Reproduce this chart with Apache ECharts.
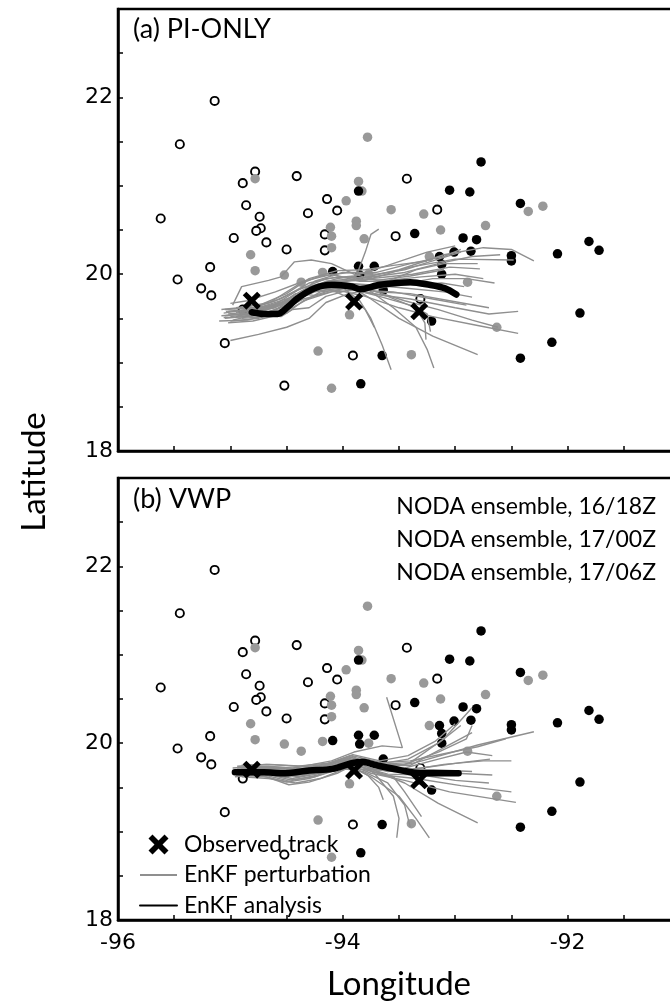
<!DOCTYPE html>
<html><head><meta charset="utf-8">
<script src="https://cdn.jsdelivr.net/npm/echarts@6/dist/echarts.min.js"></script>
<style>html,body{margin:0;padding:0;background:#fff}#c{width:670px;height:1005px}</style>
</head><body><div id="c"></div>
<script>
// ---------- tick labels ----------
const xTickLabels = [-96, -94, -92];
const yTickLabels = [18, 20, 22];

// ---------- NODA ensemble positions (lon, lat) ----------
const noda1618 = [[-95.14,21.96],[-95.45,21.47],[-95.62,20.63],[-94.78,21.16],[-94.89,21.03],[-94.41,21.11],[-93.43,21.08],[-94.86,20.78],[-94.74,20.65],[-94.14,20.85],[-94.05,20.72],[-94.31,20.69],[-93.16,20.73],[-94.73,20.52],[-94.77,20.49],[-94.97,20.41],[-94.68,20.36],[-94.16,20.45],[-93.53,20.43],[-94.50,20.28],[-94.16,20.27],[-95.18,20.08],[-95.47,19.94],[-95.26,19.84],[-95.17,19.76],[-94.89,19.60],[-93.31,19.72],[-95.05,19.22],[-93.91,19.08],[-94.52,18.74]];
const noda1700 = [[-93.78,21.55],[-93.86,21.05],[-93.83,20.94],[-94.78,21.08],[-93.97,20.83],[-93.57,20.73],[-93.28,20.68],[-92.35,20.71],[-92.22,20.77],[-93.88,20.60],[-93.88,20.55],[-94.11,20.53],[-94.10,20.43],[-93.81,20.40],[-93.13,20.50],[-92.73,20.55],[-94.10,20.30],[-94.82,20.22],[-94.78,20.04],[-94.52,19.99],[-94.37,19.91],[-94.18,20.02],[-93.77,20.00],[-93.23,20.20],[-92.89,19.91],[-93.94,19.54],[-92.63,19.40],[-94.22,19.13],[-93.39,19.09],[-94.10,18.71]];
const noda1706 = [[-92.77,21.27],[-93.05,20.95],[-92.87,20.93],[-92.42,20.80],[-93.86,20.94],[-93.36,20.46],[-92.93,20.41],[-92.81,20.39],[-91.81,20.37],[-91.72,20.27],[-92.09,20.23],[-93.01,20.25],[-92.86,20.26],[-92.50,20.21],[-92.50,20.15],[-93.14,20.20],[-93.12,20.11],[-93.12,20.00],[-93.86,20.09],[-93.72,20.09],[-94.09,20.03],[-93.85,19.99],[-93.64,19.82],[-93.21,19.47],[-91.89,19.56],[-92.14,19.23],[-92.42,19.05],[-93.65,19.08],[-93.84,18.76]];

// ---------- observed track ----------
const observedTrack = [[-94.81,19.70],[-93.90,19.69],[-93.32,19.58]];

// ---------- EnKF analysis ----------
const analysisA = [[-94.81,19.57],[-94.70,19.55],[-94.58,19.55],[-94.48,19.64],[-94.40,19.73],[-94.25,19.84],[-94.10,19.88],[-93.92,19.86],[-93.85,19.83],[-93.67,19.88],[-93.40,19.91],[-93.23,19.88],[-93.09,19.84],[-92.99,19.77]];
const analysisB = [[-94.96,19.67],[-94.70,19.67],[-94.54,19.66],[-94.30,19.69],[-94.09,19.71],[-93.93,19.77],[-93.83,19.79],[-93.70,19.75],[-93.47,19.69],[-93.31,19.66],[-92.97,19.66]];

// ---------- EnKF perturbations ----------
const perturbA = [
 [[-95.05,19.50],[-94.80,19.53],[-94.55,19.60],[-94.35,19.78],[-94.10,19.90],[-93.85,19.95],[-93.50,20.05],[-93.10,20.22],[-92.75,20.30],[-92.50,20.28],[-92.30,20.15]],
 [[-95.00,19.47],[-94.75,19.50],[-94.50,19.62],[-94.30,19.80],[-94.05,19.92],[-93.80,19.93],[-93.40,20.08],[-93.00,20.17],[-92.48,20.16]],
 [[-95.08,19.53],[-94.85,19.55],[-94.60,19.66],[-94.40,19.82],[-94.15,19.95],[-93.90,19.98],[-93.60,20.10],[-93.25,20.25],[-93.00,20.32]],
 [[-95.00,19.25],[-94.75,19.32],[-94.50,19.40],[-94.30,19.50],[-94.15,19.68],[-93.95,19.78],[-93.60,19.86],[-93.20,19.95],[-92.90,19.95],[-92.65,19.90]],
 [[-94.98,19.65],[-94.90,19.86],[-94.66,19.93],[-94.55,19.97],[-94.43,20.14],[-94.28,20.16],[-94.10,20.12],[-93.90,20.00],[-93.70,19.93],[-93.40,19.98],[-93.10,20.05]],
 [[-95.02,19.55],[-94.80,19.58],[-94.55,19.68],[-94.30,19.86],[-94.05,19.95],[-93.88,19.98],[-93.80,20.25],[-93.75,20.45],[-93.68,20.51]],
 [[-95.04,19.58],[-94.80,19.60],[-94.50,19.68],[-94.30,19.80],[-94.00,19.85],[-93.75,19.78],[-93.40,19.72],[-93.00,19.62],[-92.70,19.55],[-92.44,19.58]],
 [[-95.10,19.47],[-94.85,19.48],[-94.55,19.58],[-94.35,19.72],[-94.05,19.82],[-93.80,19.75],[-93.50,19.62],[-93.20,19.52],[-92.80,19.42],[-92.44,19.33]],
 [[-94.95,19.62],[-94.75,19.62],[-94.45,19.74],[-94.20,19.88],[-93.95,19.88],[-93.75,19.72],[-93.50,19.50],[-93.20,19.30],[-92.80,19.09]],
 [[-95.00,19.52],[-94.80,19.55],[-94.55,19.65],[-94.25,19.80],[-94.00,19.85],[-93.85,19.70],[-93.75,19.50],[-93.65,19.20],[-93.57,18.92]],
 [[-95.06,19.56],[-94.85,19.60],[-94.60,19.70],[-94.35,19.85],[-94.05,19.92],[-93.80,19.85],[-93.55,19.62],[-93.35,19.40],[-93.25,19.15],[-93.19,18.94]],
 [[-94.90,19.50],[-94.70,19.52],[-94.45,19.62],[-94.20,19.80],[-93.95,19.84],[-93.60,19.75],[-93.35,19.62],[-93.27,19.45],[-93.26,19.26]],
 [[-95.05,19.60],[-94.80,19.62],[-94.55,19.72],[-94.30,19.90],[-94.05,19.97],[-93.80,19.96],[-93.45,20.02],[-93.15,20.12],[-92.85,20.20],[-92.60,20.22]],
 [[-94.95,19.57],[-94.70,19.60],[-94.40,19.75],[-94.15,19.92],[-93.90,19.95],[-93.60,19.93],[-93.30,19.97],[-93.00,20.00],[-92.75,19.95]],
 [[-95.02,19.45],[-94.80,19.47],[-94.50,19.56],[-94.35,19.70],[-94.10,19.80],[-93.85,19.82],[-93.55,19.80],[-93.20,19.72],[-92.90,19.65]],
 [[-94.88,19.60],[-94.65,19.62],[-94.45,19.70],[-94.25,19.92],[-94.00,20.02],[-93.70,20.02],[-93.40,20.12],[-93.10,20.20],[-92.95,20.28]],
 [[-94.98,19.48],[-94.75,19.55],[-94.55,19.52],[-94.45,19.60],[-94.30,19.62],[-94.15,19.75],[-93.95,19.82],[-93.75,19.82],[-93.45,19.70],[-93.15,19.60],[-92.85,19.48],[-92.62,19.40]],
 [[-95.08,19.60],[-94.85,19.63],[-94.65,19.68],[-94.40,19.88],[-94.20,19.98],[-93.95,20.02],[-93.70,20.00],[-93.45,20.05],[-93.20,20.15],[-92.95,20.25]],
 [[-94.92,19.55],[-94.70,19.56],[-94.50,19.64],[-94.28,19.84],[-94.00,19.90],[-93.78,19.88],[-93.50,19.85],[-93.10,19.80],[-92.85,19.74]],
 [[-95.05,19.53],[-94.80,19.57],[-94.60,19.62],[-94.42,19.78],[-94.25,19.76],[-94.10,19.82],[-93.92,19.72],[-93.80,19.60],[-93.72,19.40]],
 [[-94.95,19.62],[-94.72,19.66],[-94.50,19.78],[-94.30,19.95],[-94.05,20.04],[-93.80,20.05],[-93.55,20.10],[-93.25,20.15]],
 [[-95.02,19.58],[-94.80,19.60],[-94.50,19.70],[-94.20,19.85],[-93.95,19.88],[-93.70,19.80],[-93.40,19.78],[-93.05,19.70],[-92.70,19.62]],
 [[-94.95,19.52],[-94.70,19.55],[-94.45,19.68],[-94.20,19.84],[-93.95,19.84],[-93.65,19.74],[-93.40,19.65],[-93.25,19.55],[-93.22,19.35]],
 [[-95.00,19.67],[-94.85,19.70],[-94.60,19.80],[-94.35,19.92],[-94.10,20.00],[-93.85,19.92],[-93.60,19.92],[-93.35,20.05],[-93.10,20.12],[-92.80,20.12]],
 [[-95.06,19.51],[-94.82,19.52],[-94.62,19.58],[-94.45,19.72],[-94.22,19.86],[-93.98,19.90],[-93.72,19.86],[-93.42,19.88],[-93.12,19.90],[-92.92,19.86]],
 [[-94.97,19.59],[-94.76,19.58],[-94.58,19.64],[-94.38,19.76],[-94.18,19.87],[-93.92,19.93],[-93.68,19.96],[-93.38,20.00],[-93.05,20.08],[-92.78,20.06]]
];
const perturbB = [
 [[-94.98,19.72],[-94.75,19.74],[-94.45,19.72],[-94.15,19.76],[-93.95,19.82],[-93.70,19.76],[-93.40,19.78],[-93.10,20.05],[-92.85,20.40]],
 [[-94.95,19.65],[-94.70,19.66],[-94.45,19.60],[-94.20,19.66],[-93.95,19.80],[-93.70,19.74],[-93.40,19.75],[-93.10,19.95],[-92.85,20.12]],
 [[-94.92,19.68],[-94.70,19.70],[-94.40,19.68],[-94.10,19.72],[-93.92,19.84],[-93.65,19.72],[-93.35,19.78],[-92.80,19.98],[-92.30,20.13]],
 [[-94.96,19.62],[-94.75,19.64],[-94.50,19.56],[-94.30,19.60],[-94.05,19.70],[-93.88,19.80],[-93.60,19.68],[-93.30,19.72],[-92.95,19.78],[-92.69,19.82]],
 [[-94.90,19.75],[-94.65,19.76],[-94.35,19.74],[-94.10,19.80],[-93.90,19.90],[-93.65,19.97],[-93.47,19.95],[-93.61,20.52]],
 [[-94.95,19.70],[-94.70,19.70],[-94.40,19.66],[-94.15,19.70],[-93.95,19.80],[-93.70,19.70],[-93.40,19.66],[-93.00,19.66],[-92.67,19.64]],
 [[-94.93,19.64],[-94.68,19.62],[-94.48,19.53],[-94.30,19.56],[-94.05,19.66],[-93.90,19.76],[-93.65,19.64],[-93.35,19.60],[-92.95,19.52],[-92.50,19.45]],
 [[-94.97,19.68],[-94.72,19.68],[-94.45,19.63],[-94.20,19.68],[-93.98,19.78],[-93.75,19.66],[-93.45,19.58],[-93.05,19.45],[-92.46,19.33]],
 [[-94.90,19.66],[-94.65,19.68],[-94.40,19.62],[-94.12,19.70],[-93.93,19.82],[-93.70,19.68],[-93.45,19.55],[-93.15,19.32],[-92.80,19.10]],
 [[-94.94,19.72],[-94.70,19.73],[-94.42,19.70],[-94.15,19.74],[-93.95,19.82],[-93.72,19.66],[-93.55,19.40],[-93.50,19.15],[-93.52,18.93]],
 [[-94.92,19.67],[-94.70,19.66],[-94.45,19.58],[-94.22,19.64],[-93.97,19.76],[-93.75,19.62],[-93.50,19.40],[-93.35,19.15],[-93.23,18.93]],
 [[-94.96,19.70],[-94.73,19.71],[-94.50,19.68],[-94.25,19.72],[-94.00,19.80],[-93.78,19.64],[-93.68,19.50],[-93.64,19.36]],
 [[-94.94,19.74],[-94.68,19.76],[-94.40,19.74],[-94.10,19.78],[-93.92,19.86],[-93.65,19.78],[-93.40,19.80],[-93.10,19.88],[-92.80,19.96],[-92.55,20.05]],
 [[-94.98,19.66],[-94.75,19.66],[-94.52,19.62],[-94.28,19.66],[-94.02,19.74],[-93.80,19.70],[-93.55,19.62],[-93.45,19.45],[-93.30,19.17]],
 [[-94.92,19.70],[-94.70,19.69],[-94.45,19.66],[-94.18,19.72],[-93.96,19.83],[-93.72,19.74],[-93.45,19.72],[-93.15,19.82],[-92.90,19.90],[-92.67,19.86]],
 [[-94.90,19.62],[-94.66,19.60],[-94.42,19.55],[-94.20,19.60],[-94.00,19.70],[-93.85,19.74],[-93.60,19.65],[-93.30,19.64],[-93.00,19.58],[-92.70,19.55]],
 [[-94.95,19.68],[-94.72,19.70],[-94.46,19.66],[-94.20,19.72],[-93.98,19.82],[-93.75,19.75],[-93.45,19.76],[-93.15,19.90],[-92.90,20.05],[-92.85,20.20]],
 [[-94.93,19.73],[-94.70,19.72],[-94.40,19.70],[-94.15,19.76],[-93.93,19.86],[-93.68,19.72],[-93.40,19.70],[-93.10,19.76],[-92.75,19.80],[-92.50,19.80]],
 [[-94.95,19.64],[-94.70,19.64],[-94.50,19.58],[-94.25,19.62],[-94.03,19.72],[-93.82,19.68],[-93.60,19.55],[-93.45,19.30],[-93.40,19.05]],
 [[-94.91,19.71],[-94.68,19.72],[-94.43,19.68],[-94.16,19.73],[-93.94,19.84],[-93.70,19.76],[-93.42,19.82],[-93.15,20.00],[-92.95,20.20]],
 [[-94.94,19.69],[-94.71,19.68],[-94.47,19.64],[-94.23,19.69],[-93.99,19.79],[-93.76,19.70],[-93.50,19.70],[-93.20,19.70],[-92.85,19.68]],
 [[-94.89,19.73],[-94.66,19.74],[-94.38,19.71],[-94.13,19.77],[-93.91,19.87],[-93.67,19.80],[-93.42,19.86],[-93.18,20.02],[-93.00,20.22]]
];

// ---------- styling ----------
const GRAY = '#999999';
const LINEGRAY = '#8f8f8f';
const TXT = 'Lato';
const NUM = 'DejaVu Sans';
const XPATH = 'path://M2,0L5,3L8,0L10,2L7,5L10,8L8,10L5,7L2,10L0,8L3,5L0,2Z';

function xAxisCfg(idx, showLabels) {
  return {
    type: 'value', gridIndex: idx, min: -96, max: -91, interval: 0.5,
    axisLine: {show: true, onZero: false, lineStyle: {color: '#000', width: 2.5}},
    axisTick: {show: true, inside: true, length: 5, lineStyle: {color: '#000', width: 1.5}},
    axisLabel: {show: showLabels, margin: 12, fontFamily: NUM, fontSize: 22, color: '#000', hideOverlap: false,
      formatter: v => xTickLabels.includes(Math.round(v * 100) / 100) ? String(v) : ''},
    splitLine: {show: false},
    name: showLabels ? 'Longitude' : '', nameLocation: 'middle', nameGap: 48,
    nameTextStyle: {fontFamily: TXT, fontSize: 33, color: '#000'}
  };
}
function yAxisCfg(idx) {
  return {
    type: 'value', gridIndex: idx, min: 18, max: 23, interval: 0.5,
    axisLine: {show: true, onZero: false, lineStyle: {color: '#000', width: 2.5}},
    axisTick: {show: true, inside: true, length: 5, lineStyle: {color: '#000', width: 1.5}},
    axisLabel: {margin: 5, fontFamily: NUM, fontSize: 22, color: '#000',
      formatter: v => yTickLabels.includes(Math.round(v * 100) / 100) ? String(v) : ''},
    splitLine: {show: false}
  };
}

function panelSeries(idx, perturb, analysis) {
  const s = [];
  s.push({type: 'scatter', name: 'NODA ensemble, 16/18Z', xAxisIndex: idx, yAxisIndex: idx, data: noda1618,
    symbol: 'circle', symbolSize: 8.2, itemStyle: {color: '#fff', borderColor: '#000', borderWidth: 1.9, opacity: 1}, silent: true, z: 2});
  s.push({type: 'scatter', name: 'NODA ensemble, 17/00Z', xAxisIndex: idx, yAxisIndex: idx, data: noda1700,
    symbol: 'circle', symbolSize: 9.5, itemStyle: {color: GRAY, opacity: 1}, silent: true, z: 2});
  s.push({type: 'scatter', name: 'NODA ensemble, 17/06Z', xAxisIndex: idx, yAxisIndex: idx, data: noda1706,
    symbol: 'circle', symbolSize: 9.5, itemStyle: {color: '#000', opacity: 1}, silent: true, z: 2});
  perturb.forEach(tr => s.push({type: 'line', name: 'EnKF perturbation', xAxisIndex: idx, yAxisIndex: idx, data: tr,
    showSymbol: false, symbol: 'none', lineStyle: {color: LINEGRAY, width: 1.4}, itemStyle: {color: LINEGRAY}, silent: true, z: 3}));
  s.push({type: 'line', name: 'EnKF analysis', xAxisIndex: idx, yAxisIndex: idx, data: analysis,
    showSymbol: false, symbol: 'none', smooth: 0.3, lineStyle: {color: '#000', width: 6.5, cap: 'round', join: 'round'}, itemStyle: {color: '#000'}, silent: true, z: 4});
  s.push({type: 'scatter', name: 'Observed track', xAxisIndex: idx, yAxisIndex: idx, data: observedTrack,
    symbol: XPATH, symbolSize: 18, symbolKeepAspect: true, itemStyle: {color: '#000', opacity: 1}, silent: true, z: 5});
  return s;
}

const chart = echarts.init(document.getElementById('c'), null, {renderer: 'canvas'});
chart.setOption({
  animation: false,
  backgroundColor: '#fff',
  grid: [
    {left: 118, width: 562, top: 9, height: 442, show: true, borderColor: '#000', borderWidth: 2.5, backgroundColor: 'transparent', outerBoundsMode: 'none', containLabel: false},
    {left: 118, width: 562, top: 478, height: 442, show: true, borderColor: '#000', borderWidth: 2.5, backgroundColor: 'transparent', outerBoundsMode: 'none', containLabel: false}
  ],
  xAxis: [xAxisCfg(0, false), xAxisCfg(1, true)],
  yAxis: [yAxisCfg(0), yAxisCfg(1)],
  legend: {
    data: [
      {name: 'Observed track'},
      {name: 'EnKF perturbation', itemStyle: {opacity: 0, color: 'rgba(0,0,0,0)', borderWidth: 0}},
      {name: 'EnKF analysis', itemStyle: {opacity: 0, color: 'rgba(0,0,0,0)', borderWidth: 0}}
    ],
    orient: 'vertical', left: 134, top: 828, itemWidth: 37, itemHeight: 20, itemGap: 7.5,
    selectedMode: false,
    textStyle: {fontFamily: TXT, fontSize: 23, color: '#000', padding: [0, 0, 0, 2]}
  },
  graphic: [
    {type: 'text', left: 133, top: 16, style: {text: '(a) PI-ONLY', font: '27px Lato', fill: '#000'}},
    {type: 'text', left: 133, top: 486, style: {text: '(b) VWP', font: '27px Lato', fill: '#000'}},
    {type: 'text', x: 656, y: 507, style: {text: 'NODA ensemble, 16/18Z', font: '23px Lato', fill: '#000', textAlign: 'right', textVerticalAlign: 'middle'}},
    {type: 'text', x: 656, y: 540, style: {text: 'NODA ensemble, 17/00Z', font: '23px Lato', fill: '#000', textAlign: 'right', textVerticalAlign: 'middle'}},
    {type: 'text', x: 656, y: 573, style: {text: 'NODA ensemble, 17/06Z', font: '23px Lato', fill: '#000', textAlign: 'right', textVerticalAlign: 'middle'}},
    {type: 'text', x: 34, y: 472, rotation: Math.PI / 2, style: {text: 'Latitude', font: '33px Lato', fill: '#000', textAlign: 'center', textVerticalAlign: 'middle'}}
  ],
  series: [].concat(panelSeries(0, perturbA, analysisA), panelSeries(1, perturbB, analysisB))
});
</script>
</body></html>
